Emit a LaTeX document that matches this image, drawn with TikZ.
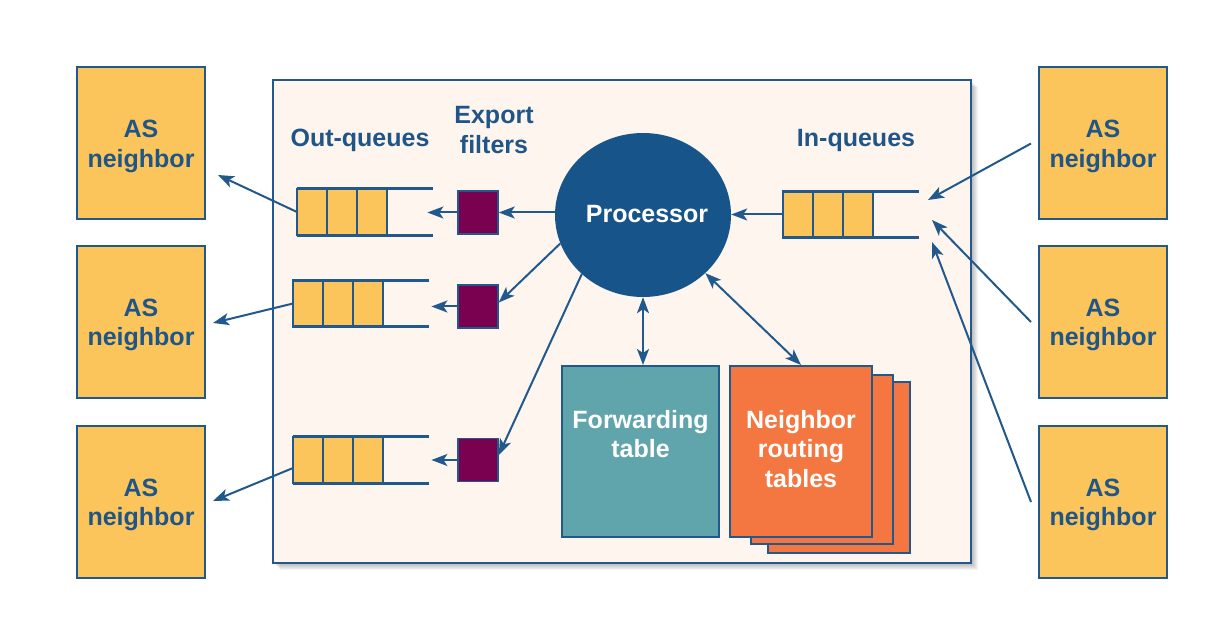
\documentclass[tikz,border=0pt]{standalone}
\usepackage{fontspec}
\setmainfont{Liberation Sans}
\usetikzlibrary{arrows.meta,calc,shapes.geometric}
\definecolor{lineblue}{HTML}{22598C}
\definecolor{txtblue}{HTML}{1F5587}
\definecolor{procblue}{HTML}{175489}
\definecolor{asyellow}{HTML}{FBC55B}
\definecolor{cream}{HTML}{FDF5EE}
\definecolor{teal}{HTML}{60A4AC}
\definecolor{orng}{HTML}{F47640}
\definecolor{filtmag}{HTML}{7A0050}
\newcommand\drawqueue[1]{%
  \draw[qline] (#1.north west) -- (#1.north east);
  \draw[qline] (#1.south west) -- (#1.south east);
  \foreach \i in {0,1,2}
    \draw[qcell] ($(#1.north west)+(\i*30,0)$) rectangle ($(#1.south west)+(\i*30+30,0)$);
}
\begin{document}
\begin{tikzpicture}[x=1pt,y=-1pt,
  bigfont/.style={font=\fontsize{25}{29.5}\selectfont\bfseries},
  lbl/.style={bigfont, text=txtblue, align=center, inner sep=0pt},
  asbox/.style={draw=lineblue, line width=2pt, fill=asyellow, minimum width=128pt,
    minimum height=152pt, inner sep=0pt,
    label={[lbl, yshift=-3pt]center:AS\\neighbor}},
  qbox/.style={minimum width=136pt, minimum height=46pt, inner sep=0pt, anchor=west},
  qline/.style={draw=lineblue, line width=3pt},
  qcell/.style={draw=lineblue, line width=2.5pt, fill=asyellow},
  fbox/.style={draw=lineblue, line width=1.5pt, fill=filtmag, minimum width=40pt,
    minimum height=43pt, inner sep=0pt},
  tbl/.style={draw=lineblue, line width=2pt, minimum width=142pt, minimum height=171pt, inner sep=0pt},
  tip/.style={Stealth[length=16pt,width=12pt,inset=4pt]},
  arr/.style={draw=lineblue, line width=2pt, -{Stealth[length=16pt,width=12pt,inset=4pt]}},
  darr/.style={draw=lineblue, line width=2pt, {Stealth[length=16pt,width=12pt,inset=4pt]}-{Stealth[length=16pt,width=12pt,inset=4pt]}},
]
\useasboundingbox (0,0) rectangle (1226,636);
\fill[white] (0,0) rectangle (1226,636);

% main box with soft shadow
\foreach \s in {1,...,7}
  \fill[black, opacity=0.045] (273+\s,80+\s) rectangle (971+\s,563+\s);
\node[draw=lineblue, line width=2pt, fill=cream, minimum width=698pt, minimum height=483pt,
  inner sep=0pt] (MB) at (622,321.5) {};

% AS neighbors
\node[asbox] (L1) at (141,143.5) {};
\node[asbox] (L2) at (141,322) {};
\node[asbox] (L3) at (141,502) {};
\node[asbox] (R1) at (1103,143.5) {};
\node[asbox] (R2) at (1103,322) {};
\node[asbox] (R3) at (1103,502) {};

% labels
\node[lbl, anchor=base] (outlbl) at (360,147) {Out-queues};
\node[lbl] (explbl) at (494,130) {Export\\filters};
\node[lbl, anchor=base] (inlbl) at (856,147) {In-queues};

% processor
\node[ellipse, fill=procblue, minimum width=176pt, minimum height=164pt, inner sep=0pt,
  bigfont, text=white] (P) at (643,215) {};
\node[bigfont, text=white, inner sep=0pt] (Ptxt) at (647,214) {Processor};

% queues
\node[qbox] (q1) at (297,212) {};
\node[qbox] (q2) at (293,303.5) {};
\node[qbox] (q3) at (293,460) {};
\node[qbox] (qi) at (783,214.5) {};
\drawqueue{q1}
\drawqueue{q2}
\drawqueue{q3}
\drawqueue{qi}

% filters
\node[fbox] (f1) at (478,212.5) {};
\node[fbox] (f2) at (478,306.5) {};
\node[fbox] (f3) at (478,460) {};

% tables
\fill[orng] (768,382) rectangle (910,553);
\draw[lineblue, line width=2pt] (768,382) rectangle (910,553);
\fill[orng] (751,375) rectangle (893,544);
\draw[lineblue, line width=2pt] (751,375) rectangle (893,544);
\node[tbl, fill=orng] (N) at (801,451.5) {};
\node[bigfont, text=white, align=center, inner sep=0pt] (Ntxt) at (801,449) {Neighbor\\routing\\tables};
\node[tbl, fill=teal, minimum width=157pt] (F) at (640.5,451.5) {};
\node[bigfont, text=white, align=center, inner sep=0pt] (Ftxt) at (640.5,434) {Forwarding\\table};

% free ends
\coordinate (L1t) at (218,175);
\coordinate (L2t) at (213,323);
\coordinate (L3t) at (213,501);
\coordinate (qi1) at (928,200);
\coordinate (qi2) at (932,220);
\coordinate (qi3) at (932,242);

% connectors
\draw[arr] (f1.east -| P.west) -- (f1.east);
\draw[arr] (f1.west) -- ($(f1.west -| q1.east)+(-6,0)$);
\draw[arr] (P.199) -- ($(f2.east)+(0,-4)$);
\draw[arr] (f2.west) -- ($(f2.west -| q2.east)+(2,0)$);
\draw[arr] (P.224) -- ($(f3.east)+(0,-5)$);
\draw[arr] (f3.west) -- ($(f3.west -| q3.east)+(2,0)$);
\draw[arr] (q1.west) -- (L1t);
\draw[arr] (q2.west) -- (L2t);
\draw[arr] ($(q3.west)+(0,8)$) -- (L3t);
\draw[arr] (qi.west) -- (qi.west -| P.east);
\draw[darr] (P.south) -- (P.south |- F.north);
\draw[darr] (P.-43) -- (N.north);
\draw[arr] ($(R1.west)+(-7,0)$) -- (qi1);
\draw[arr] ($(R2.west)+(-7,0)$) -- (qi2);
\draw[arr] ($(R3.west)+(-7,0)$) -- (qi3);
\end{tikzpicture}
\end{document}
